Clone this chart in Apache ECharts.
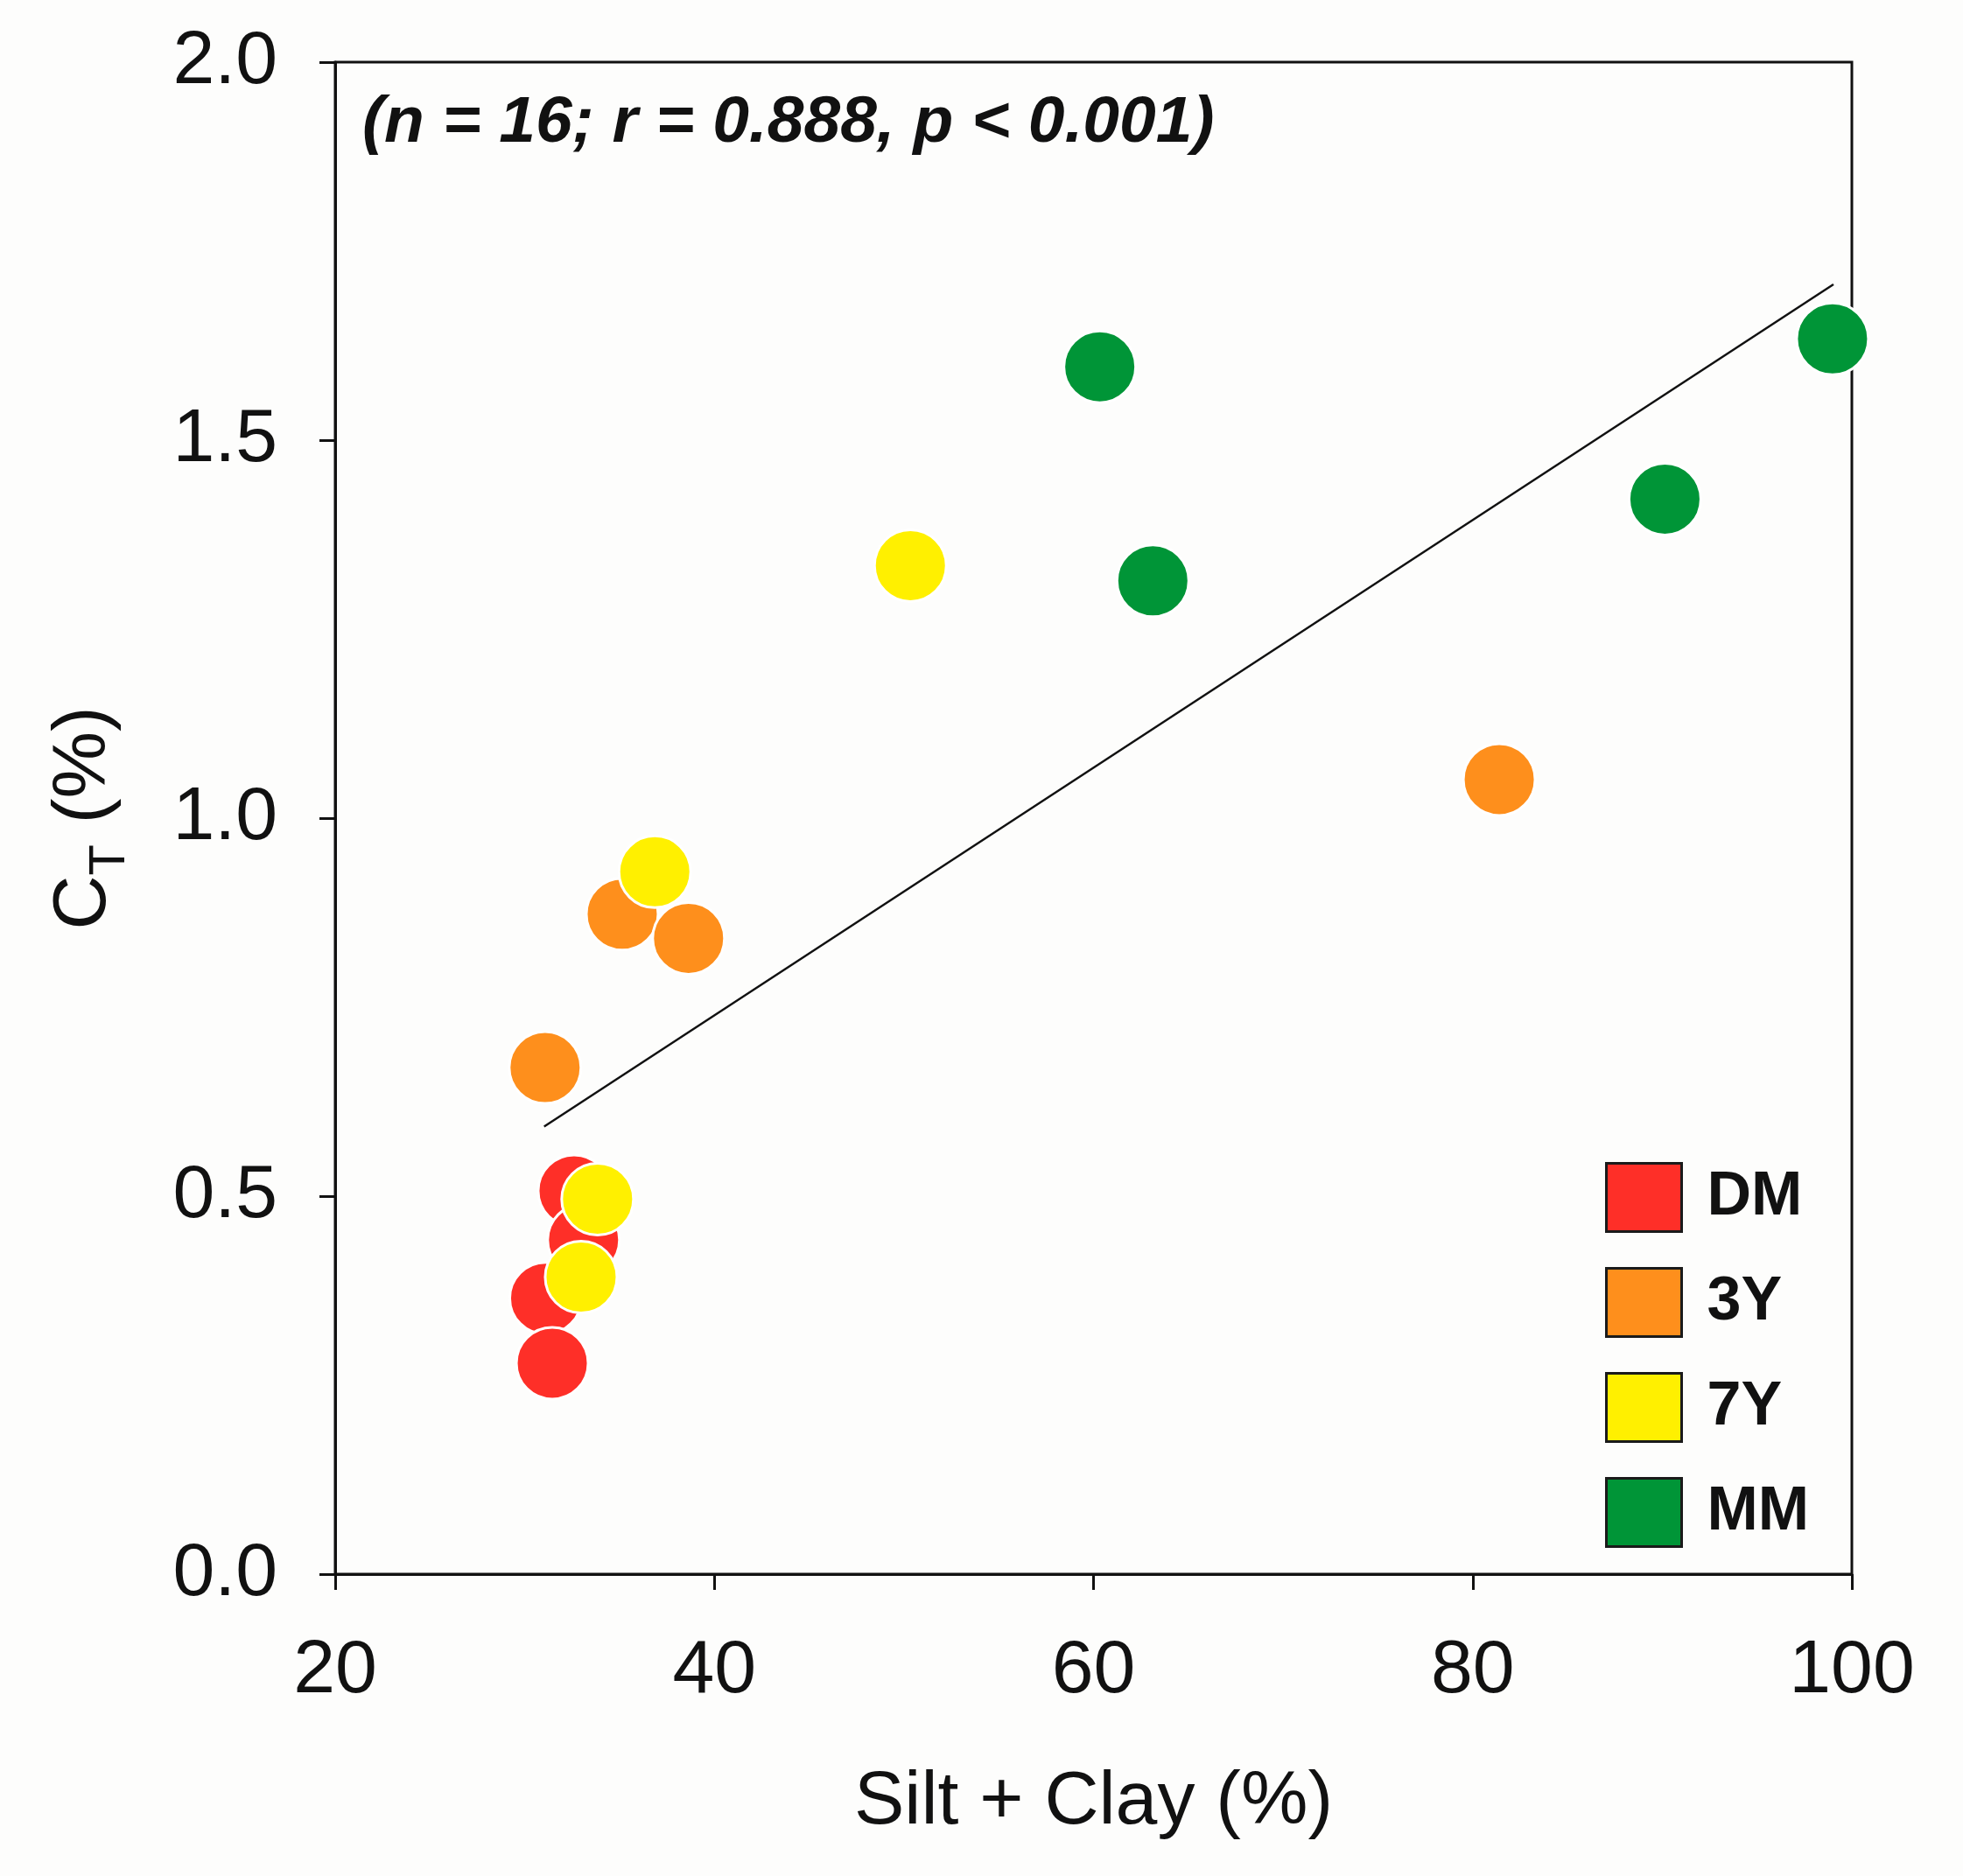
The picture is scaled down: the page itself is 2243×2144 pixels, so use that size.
<!DOCTYPE html>
<html>
<head>
<meta charset="utf-8">
<script src="https://cdn.jsdelivr.net/npm/echarts@6/dist/echarts.min.js"></script>
<style>
html, body { margin: 0; padding: 0; background: #fdfdfc; }
#main { width: 2243px; height: 2144px; }
</style>
</head>
<body>
<div id="main"></div>
<script>
// groups and colours
var groupNames = ['DM', '3Y', '7Y', 'MM'];
var groupColors = ['#fe2f28', '#fe8f1c', '#fff000', '#009537'];

// Silt + Clay (%) and C_T (%), per group
var dmX = [32.6, 33.1, 31.1, 31.45];
var dmY = [0.507, 0.442, 0.365, 0.279];
var y3X = [31.07, 35.14, 38.64, 81.4];
var y3Y = [0.670, 0.873, 0.841, 1.051];
var y7X = [36.86, 33.84, 32.97, 50.34];
var y7Y = [0.929, 0.496, 0.393, 1.334];
var mmX = [60.33, 63.13, 90.14, 98.98];
var mmY = [1.597, 1.314, 1.422, 1.634];

// regression line end points
var fitX = [31.02, 99.03];
var fitY = [0.592, 1.706];

// axis ticks
var xTicks = [20, 40, 60, 80, 100];
var yTicks = [0.0, 0.5, 1.0, 1.5, 2.0];

function pairs(xs, ys) {
    var out = [];
    for (var i = 0; i < xs.length; i++) {
        out.push([xs[i], ys[i]]);
    }
    return out;
}

var groupX = [dmX, y3X, y7X, mmX];
var groupY = [dmY, y3Y, y7Y, mmY];

var myChart = echarts.init(document.getElementById('main'), null, { renderer: 'canvas' });

var series = [{
    name: 'fit',
    type: 'line',
    data: pairs(fitX, fitY),
    showSymbol: false,
    symbol: 'none',
    silent: true,
    lineStyle: { color: '#111', width: 2.5 },
    z: 1
}];
for (var g = 0; g < groupNames.length; g++) {
    series.push({
        name: groupNames[g],
        type: 'scatter',
        data: pairs(groupX[g], groupY[g]),
        symbol: 'circle',
        symbolSize: 82,
        itemStyle: { color: groupColors[g], borderColor: '#ffffff', borderWidth: 3, opacity: 1 },
        z: 2 + g
    });
}

var axisFont = 'Liberation Sans, Arial, Helvetica, sans-serif';

var option = {
    backgroundColor: '#fdfdfc',
    animation: false,
    title: {
        text: '(n = 16; r = 0.888, p < 0.001)',
        left: 414,
        top: 104,
        padding: 0,
        textStyle: {
            fontFamily: axisFont,
            fontSize: 75,
            fontStyle: 'italic',
            fontWeight: 'bold',
            color: '#111'
        }
    },
    grid: {
        left: 383,
        right: 127,
        top: 71,
        bottom: 345,
        show: true,
        borderColor: '#111',
        borderWidth: 3,
        backgroundColor: 'transparent'
    },
    legend: {
        data: groupNames,
        orient: 'vertical',
        left: 1829,
        top: 1323,
        icon: 'rect',
        itemWidth: 86,
        itemHeight: 78,
        itemGap: 39,
        selectedMode: false,
        itemStyle: { borderColor: '#1a1a1a', borderWidth: 3 },
        textStyle: {
            fontFamily: axisFont,
            fontSize: 70,
            fontWeight: 'bold',
            color: '#111',
            padding: [0, 0, 0, 24]
        }
    },
    xAxis: {
        type: 'value',
        min: xTicks[0],
        max: xTicks[xTicks.length - 1],
        interval: 20,
        name: 'Silt + Clay (%)',
        nameLocation: 'middle',
        nameGap: 218,
        nameTextStyle: { fontFamily: axisFont, fontSize: 86, color: '#111' },
        axisLine: { show: true, lineStyle: { color: '#111', width: 3 } },
        axisTick: { show: true, inside: false, length: 18, lineStyle: { color: '#111', width: 3 } },
        axisLabel: { margin: 68, fontFamily: axisFont, fontSize: 86, color: '#111' },
        splitLine: { show: false }
    },
    yAxis: {
        type: 'value',
        min: yTicks[0],
        max: yTicks[yTicks.length - 1],
        interval: 0.5,
        name: '{c|C}{t|T}{c| (%)}',
        nameLocation: 'middle',
        nameRotate: 90,
        nameGap: 244,
        nameTextStyle: {
            color: '#111',
            rich: {
                c: { fontFamily: axisFont, fontSize: 86, color: '#111', verticalAlign: 'bottom' },
                t: { fontFamily: axisFont, fontSize: 58, color: '#111', verticalAlign: 'bottom', padding: [0, 0, -16, 0] }
            }
        },
        axisLine: { show: true, lineStyle: { color: '#111', width: 3 } },
        axisTick: { show: true, inside: false, length: 18, lineStyle: { color: '#111', width: 3 } },
        axisLabel: {
            margin: 66,
            fontFamily: axisFont,
            fontSize: 86,
            color: '#111',
            formatter: function (v) { return v.toFixed(1); }
        },
        splitLine: { show: false }
    },
    series: series
};

myChart.setOption(option);
</script>
</body>
</html>
